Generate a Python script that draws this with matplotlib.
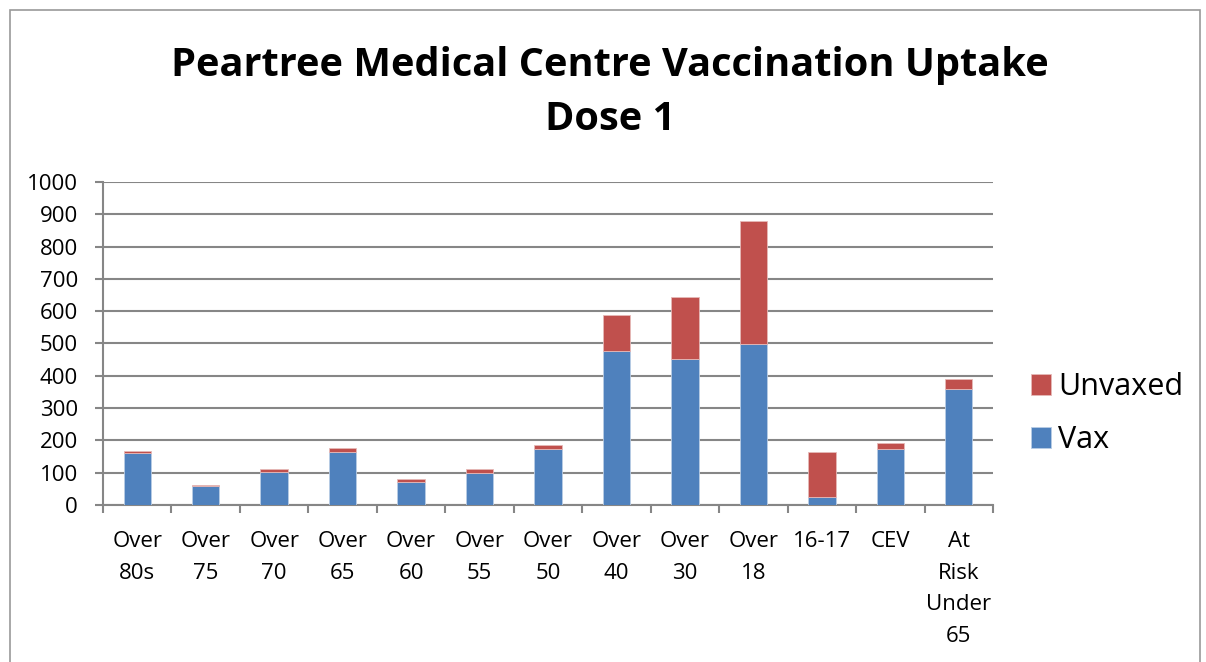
import numpy as np
import matplotlib
matplotlib.use("Agg")
import matplotlib.pyplot as plt
from matplotlib.patches import Rectangle

# data
categories = ["Over\n80s", "Over\n75", "Over\n70", "Over\n65", "Over\n60", "Over\n55",
              "Over\n50", "Over\n40", "Over\n30", "Over\n18", "16-17", "CEV",
              "At\nRisk\nUnder\n65"]
vax = [161, 58, 102, 165, 72, 98, 173, 477, 452, 498, 24, 173, 360]
unvaxed = [5, 3, 8, 10, 9, 14, 12, 112, 192, 382, 141, 20, 31]
yticks = [0, 100, 200, 300, 400, 500, 600, 700, 800, 900, 1000]

plt.rcParams['font.family'] = ['Open Sans', 'DejaVu Sans']

fig = plt.figure(figsize=(12.06, 6.62), dpi=100)
ax = fig.add_axes([0.0854, 0.2372, 0.738, 0.488])

x = np.arange(len(categories))
grid_c = "#868686"
b1 = ax.bar(x, vax, width=0.4, color="#4F81BD", edgecolor="#B9CDE5", linewidth=0.6, zorder=3, label="Vax")
b2 = ax.bar(x, unvaxed, bottom=vax, width=0.4, color="#C0504D", edgecolor="#E6B9B8", linewidth=0.6, zorder=3, label="Unvaxed")

ax.set_xlim(-0.5, len(categories) - 0.5)
ax.set_ylim(0, 1000)
ax.set_yticks(yticks)
ax.set_yticklabels([str(t) for t in yticks], fontsize=16)
ax.yaxis.grid(True, color=grid_c, linewidth=1.5, zorder=0)
ax.set_axisbelow(True)

# category labels centred, tick marks at boundaries
ax.set_xticks(x)
ax.set_xticklabels(categories, fontsize=16, linespacing=1.66, va="top")
ax.tick_params(axis="x", length=0, pad=19)
ax.set_xticks(np.arange(-0.5, len(categories), 1), minor=True)
ax.tick_params(axis="x", which="minor", length=6, width=1.5, color=grid_c, direction="out")
ax.tick_params(axis="y", length=6, width=1.5, color=grid_c, direction="out", pad=12)

for s in ["top", "right"]:
    ax.spines[s].set_visible(False)
ax.spines["left"].set_color(grid_c)
ax.spines["left"].set_linewidth(1.5)
ax.spines["bottom"].set_color(grid_c)
ax.spines["bottom"].set_linewidth(1.5)

fig.text(0.506, 0.86, "Peartree Medical Centre Vaccination Uptake\nDose 1",
         ha="center", va="center", fontsize=28.6, fontweight="bold", linespacing=1.5)

leg = fig.legend(handles=[b2, b1], labels=["Unvaxed", "Vax"], loc="center left",
                 bbox_to_anchor=(0.832, 0.375), frameon=False, fontsize=22,
                 handlelength=0.65, handleheight=0.65, handletextpad=0.25, labelspacing=0.75)

# outer chart border
fig.patches.append(Rectangle((10 / 1206, -0.1), 1190 / 1206, 1.1 - 10 / 662,
                             transform=fig.transFigure, fill=False,
                             edgecolor="#9A9A9A", linewidth=1.2))

fig.savefig("out.png", dpi=100)
